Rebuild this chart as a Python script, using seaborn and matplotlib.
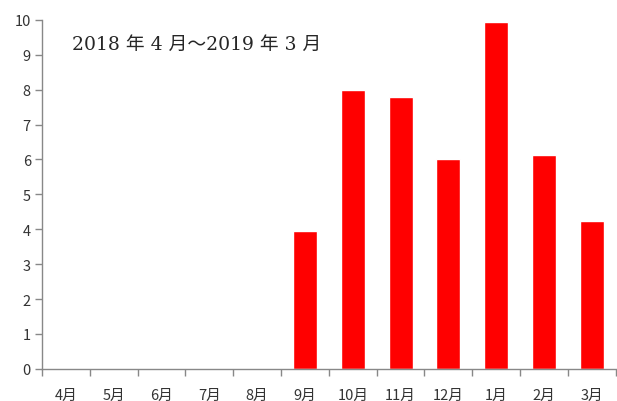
import pandas as pd
import numpy as np
import matplotlib.pyplot as plt
import seaborn as sns
from matplotlib.ticker import FixedLocator

# ----------------------------------------------------------
# DATA
# ----------------------------------------------------------
months = ["4月", "5月", "6月", "7月", "8月", "9月", "10月", "11月", "12月", "1月", "2月", "3月"]
counts = [0, 0, 0, 0, 0, 3.95, 8.0, 7.8, 6.0, 9.93, 6.12, 4.25]
y_ticks = [0, 1, 2, 3, 4, 5, 6, 7, 8, 9, 10]
title_text = "2018 年 4 月～2019 年 3 月"

sns.set_style("white")
plt.rcParams["font.family"] = ["Noto Sans CJK JP", "DejaVu Sans"]

df = pd.DataFrame({"month": months, "count": counts})

fig = plt.figure(figsize=(6.17, 4.02), dpi=100)
ax = fig.add_axes([0.068, 0.08, 0.93, 0.868])

sns.barplot(data=df, x="month", y="count", color="#ff0000", saturation=1,
            width=0.5, ax=ax)

ax.set_ylim(0, 10)
ax.set_xlim(-0.5, len(months) - 0.5)
ax.set_yticks(y_ticks)
ax.set_xlabel("")
ax.set_ylabel("")

# tick marks between categories
ax.xaxis.set_minor_locator(FixedLocator(np.arange(-0.5, len(months), 1.0)))
ax.tick_params(axis="x", which="both", bottom=True)
ax.tick_params(axis="x", which="major", length=0, pad=14, labelsize=10.5, colors="#333333")
ax.tick_params(axis="x", which="minor", length=5, width=1, color="#888888", direction="out")
ax.tick_params(axis="y", left=True, length=5, width=1, color="#888888", direction="out",
               labelsize=10.5, labelcolor="#333333", pad=3)

sns.despine(ax=ax, top=True, right=True)
for side in ["left", "bottom"]:
    ax.spines[side].set_color("#888888")
    ax.spines[side].set_linewidth(1)

ax.text(0.052, 0.93, title_text, transform=ax.transAxes, fontsize=13.5,
        family=["DejaVu Serif", "Noto Sans CJK JP"], va="center", ha="left")

fig.savefig("out.png", dpi=100)
